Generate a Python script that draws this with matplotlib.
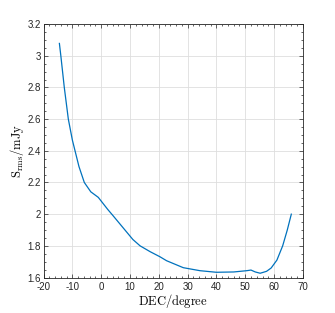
import matplotlib
matplotlib.use('Agg')
import matplotlib.pyplot as plt
from matplotlib.ticker import MultipleLocator, FuncFormatter

# values
dec = [-14.5, -14.0, -12.8, -11.4, -10.0, -9.07, -7.7, -5.85, -3.6, -1.0,
       2.27, 4.0, 11.0, 13.5, 17.0, 20.4, 22.7, 28.5, 34.3, 40.0, 46.0,
       50.5, 52.0, 53.5, 55.2, 57.4, 59.0, 61.0, 63.0, 64.6, 66.0]
s_rms = [3.078, 3.0, 2.8, 2.6, 2.468, 2.40, 2.30, 2.20, 2.141, 2.106,
         2.03, 1.993, 1.84, 1.80, 1.763, 1.731, 1.706, 1.662, 1.643, 1.633,
         1.635, 1.643, 1.647, 1.635, 1.627, 1.639, 1.66, 1.71, 1.80, 1.90,
         2.0]

plt.rcParams['axes.unicode_minus'] = False
plt.rcParams['mathtext.fontset'] = 'cm'
plt.rcParams['font.family'] = 'Liberation Sans'

fig = plt.figure(figsize=(3.35, 3.13), dpi=100)
ax = fig.add_axes([0.130, 0.1134, 0.774, 0.8096])

ax.plot(dec, s_rms, color='#0072BD', linewidth=0.9)

ax.set_xlim(-20, 70)
ax.set_ylim(1.6, 3.2)
ax.xaxis.set_major_locator(MultipleLocator(10))
ax.xaxis.set_minor_locator(MultipleLocator(2))
ax.yaxis.set_major_locator(MultipleLocator(0.2))
ax.yaxis.set_minor_locator(MultipleLocator(0.05))
ax.yaxis.set_major_formatter(FuncFormatter(lambda v, p: f'{v:g}'))

ax.grid(True, which='major', color='#dedede', linewidth=0.6)
ax.set_axisbelow(True)
for s in ax.spines.values():
    s.set_color('#262626')
    s.set_linewidth(0.6)
ax.tick_params(which='both', direction='in', top=True, right=True,
               colors='#262626', labelsize=7, width=0.5)
ax.tick_params(axis='x', pad=3)
ax.tick_params(axis='y', pad=2)
ax.tick_params(which='major', length=3)
ax.tick_params(which='minor', length=1.6)

ax.set_xlabel(r'$\mathrm{DEC/degree}$', fontsize=9, labelpad=0)
ax.set_ylabel(r'$\mathrm{S_{rms}/mJy}$', fontsize=9, labelpad=1)

fig.savefig('out.png', dpi=100)
